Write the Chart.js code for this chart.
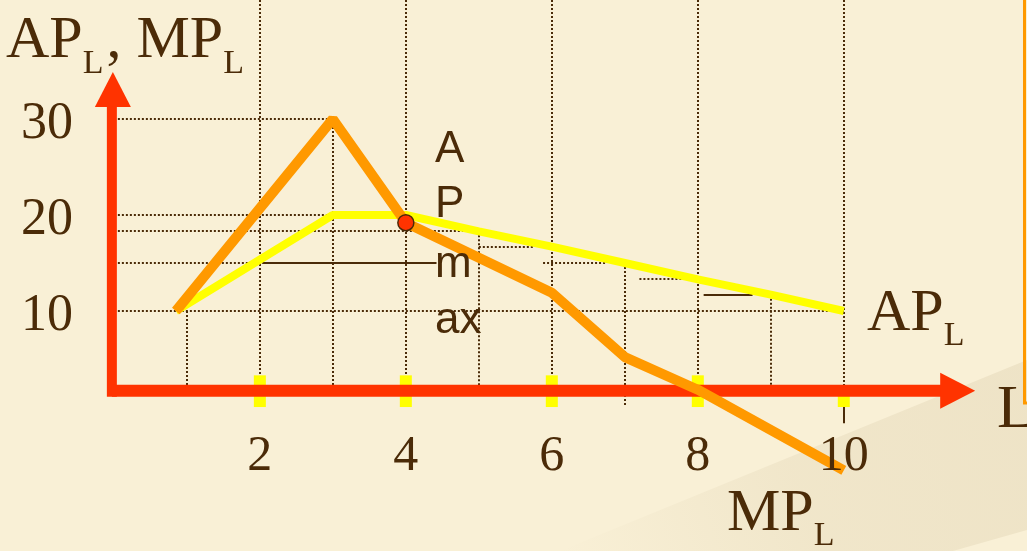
<!DOCTYPE html>
<html>
<head>
<meta charset="utf-8">
<script src="https://cdn.jsdelivr.net/npm/chart.js@4"></script>
<style>
  html, body { margin: 0; padding: 0; background: #f9f0d6; overflow: hidden; }
  canvas { display: block; }
</style>
</head>
<body>
<canvas id="chart" width="1027" height="551"></canvas>
<script>
// labour input L and product of labour
const mpL = [0.85, 3, 4, 6, 7, 8, 10];
const mpValues = [10, 30, 19.2, 11.9, 5.2, 1.8, -6.6];
const apL = [0.85, 3, 4, 5, 6, 7, 8, 9, 10];
const apValues = [10, 20, 20, 18.3, 16.7, 15, 13.3, 11.7, 10];
const apMaxPoint = [{ x: 4, y: 19.2 }];

const xTicks = [2, 4, 6, 8, 10];
const yTicks = [10, 20, 30];

// value range shown on the canvas
const X_MIN = -1.56, X_MAX = 12.51;
const Y_MIN = -15, Y_MAX = 42.4;
const AXIS_Y = 1.7;    // height where the L axis sits
const ARROW_X = 11.8;  // tip of the L arrow
const ARROW_Y = 34.9;  // tip of the vertical arrow

// projection lines: [y, xFrom, xTo] and [x, yFrom, yTo]
const hDotted = [[30, 0, 3], [20, 0, 4], [18.3, 0, 5], [16.7, 5, 5.75], [15, 0, 2.04],
                 [15, 5.88, 6.75], [13.3, 7.2, 7.85], [10, 0, 10]];
const hSolid = [[15, 2.04, 4.42], [11.7, 8.08, 8.75]];
const vDotted = [[1, 10, AXIS_Y], [2, Y_MAX, AXIS_Y], [3, 30, AXIS_Y], [4, Y_MAX, AXIS_Y],
                 [5, 18.3, AXIS_Y], [6, Y_MAX, AXIS_Y], [7, 15, 0], [8, Y_MAX, AXIS_Y],
                 [9, 11.7, AXIS_Y], [10, Y_MAX, AXIS_Y]];
const vSolid = [[10, 0, -1.7]];
// yellow tick markers on the L axis: [x, top]
const tickMarks = [[2, 3.3], [4, 3.3], [6, 3.3], [8, 3.3], [10, 1.7]];

const INK = '#4b2b08';
const RED = '#ff3300';
const SERIF = '"Liberation Serif", "Times New Roman", serif';
const SANS = '"Liberation Sans", Arial, sans-serif';

const toPoints = (xs, ys) => xs.map((x, i) => ({ x, y: ys[i] }));

function subText(ctx, parts, x, y) {
    // parts: [text, size, dropY]
    for (const [text, size, drop] of parts) {
        ctx.font = size + 'px ' + SERIF;
        ctx.fillText(text, x, y + drop);
        x += ctx.measureText(text).width + (drop ? 3 : 0);
    }
}

const slide = {
    id: 'slide',
    beforeDraw(chart) {
        const { ctx, width, height } = chart;
        ctx.save();
        ctx.fillStyle = '#f9f0d6';
        ctx.fillRect(0, 0, width, height);
        // faint diagonal swoosh bottom right
        const g = ctx.createLinearGradient(560, 551, 1027, 400);
        g.addColorStop(0, 'rgba(225, 212, 180, 0.0)');
        g.addColorStop(0.5, 'rgba(225, 212, 180, 0.35)');
        g.addColorStop(1, 'rgba(225, 212, 180, 0.45)');
        ctx.fillStyle = g;
        ctx.beginPath();
        ctx.moveTo(560, 551);
        ctx.lineTo(1027, 360);
        ctx.lineTo(1027, 530);
        ctx.lineTo(953, 551);
        ctx.closePath();
        ctx.fill();
        ctx.restore();
    },
    beforeDatasetsDraw(chart) {
        const { ctx } = chart;
        const sx = chart.scales.x, sy = chart.scales.y;
        const px = v => sx.getPixelForValue(v);
        const py = v => sy.getPixelForValue(v);
        ctx.save();
        ctx.strokeStyle = INK;
        ctx.lineWidth = 2;
        ctx.setLineDash([2, 2]);
        ctx.beginPath();
        for (const [y, x0, x1] of hDotted) {
            ctx.moveTo(px(x0), Math.round(py(y)));
            ctx.lineTo(px(x1), Math.round(py(y)));
        }
        for (const [x, y0, y1] of vDotted) {
            ctx.moveTo(Math.round(px(x)), py(y0));
            ctx.lineTo(Math.round(px(x)), py(y1));
        }
        ctx.stroke();
        ctx.setLineDash([]);
        ctx.beginPath();
        for (const [y, x0, x1] of hSolid) {
            ctx.moveTo(px(x0), Math.round(py(y)));
            ctx.lineTo(px(x1), Math.round(py(y)));
        }
        for (const [x, y0, y1] of vSolid) {
            ctx.moveTo(Math.round(px(x)), py(y0));
            ctx.lineTo(Math.round(px(x)), py(y1));
        }
        ctx.stroke();

        ctx.fillStyle = '#ffff00';
        for (const [x, top] of tickMarks) {
            ctx.fillRect(px(x) - 6, py(top), 12, py(0) - py(top));
        }

        // axes with arrow heads
        const ox = px(0), oy = py(AXIS_Y);
        const tipY = py(ARROW_Y), tipX = px(ARROW_X);
        ctx.strokeStyle = RED;
        ctx.fillStyle = RED;
        ctx.lineWidth = 10;
        ctx.beginPath();
        ctx.moveTo(ox - 2, oy + 6);
        ctx.lineTo(ox - 2, tipY + 30);
        ctx.stroke();
        ctx.beginPath();
        ctx.moveTo(ox - 1, tipY);
        ctx.lineTo(ox - 19, tipY + 35);
        ctx.lineTo(ox + 17, tipY + 35);
        ctx.closePath();
        ctx.fill();
        ctx.lineWidth = 12;
        ctx.beginPath();
        ctx.moveTo(ox - 2, oy);
        ctx.lineTo(tipX - 30, oy);
        ctx.stroke();
        ctx.beginPath();
        ctx.moveTo(tipX, oy);
        ctx.lineTo(tipX - 35, oy - 18);
        ctx.lineTo(tipX - 35, oy + 18);
        ctx.closePath();
        ctx.fill();
        ctx.restore();
    },
    afterDraw(chart) {
        const { ctx } = chart;
        const sx = chart.scales.x, sy = chart.scales.y;
        ctx.save();
        ctx.fillStyle = INK;
        ctx.textBaseline = 'alphabetic';

        ctx.font = '50px ' + SERIF;
        ctx.textAlign = 'center';
        for (const t of xTicks) ctx.fillText(String(t), sx.getPixelForValue(t), 470);

        ctx.font = '52px ' + SERIF;
        ctx.textAlign = 'right';
        ctx.textBaseline = 'middle';
        for (const t of yTicks) ctx.fillText(String(t), 73, sy.getPixelForValue(t) + 5);

        ctx.textAlign = 'left';
        ctx.textBaseline = 'alphabetic';
        subText(ctx, [['AP', 60, 0], ['L', 34, 16], [', MP', 60, 0], ['L', 34, 16]], 6, 57);
        subText(ctx, [['AP', 60, 0], ['L', 34, 15]], 867, 330);
        subText(ctx, [['MP', 60, 0], ['L', 34, 15]], 727, 530);
        ctx.font = '62px ' + SERIF;
        ctx.fillText('L', 997, 427);

        ctx.font = '44px ' + SANS;
        ['A', 'P', 'm', 'ax'].forEach((s, i) => ctx.fillText(s, 435, [162, 217, 277, 333][i]));

        // edge of the neighbouring text box
        ctx.strokeStyle = '#ff9900';
        ctx.lineWidth = 3;
        ctx.beginPath();
        ctx.moveTo(1024.5, 0);
        ctx.lineTo(1024.5, 403);
        ctx.lineTo(1027, 403);
        ctx.stroke();
        ctx.restore();
    }
};

new Chart(document.getElementById('chart'), {
    type: 'line',
    data: {
        datasets: [
            {
                type: 'scatter',
                label: 'AP max',
                data: apMaxPoint,
                pointRadius: 8,
                pointBackgroundColor: RED,
                pointBorderColor: INK,
                pointBorderWidth: 1.5
            },
            {
                label: 'MP_L',
                data: toPoints(mpL, mpValues),
                borderColor: '#ff9900',
                borderWidth: 10,
                borderJoinStyle: 'bevel',
                pointRadius: 0
            },
            {
                label: 'AP_L',
                data: toPoints(apL, apValues),
                borderColor: '#ffff00',
                borderWidth: 8,
                borderJoinStyle: 'bevel',
                pointRadius: 0
            }
        ]
    },
    options: {
        responsive: false,
        animation: false,
        devicePixelRatio: 1,
        layout: { padding: 0, autoPadding: false },
        elements: { line: { tension: 0 } },
        scales: {
            x: { type: 'linear', min: X_MIN, max: X_MAX, display: false },
            y: { type: 'linear', min: Y_MIN, max: Y_MAX, display: false }
        },
        plugins: {
            legend: { display: false },
            tooltip: { enabled: false }
        }
    },
    plugins: [slide]
});
</script>
</body>
</html>
